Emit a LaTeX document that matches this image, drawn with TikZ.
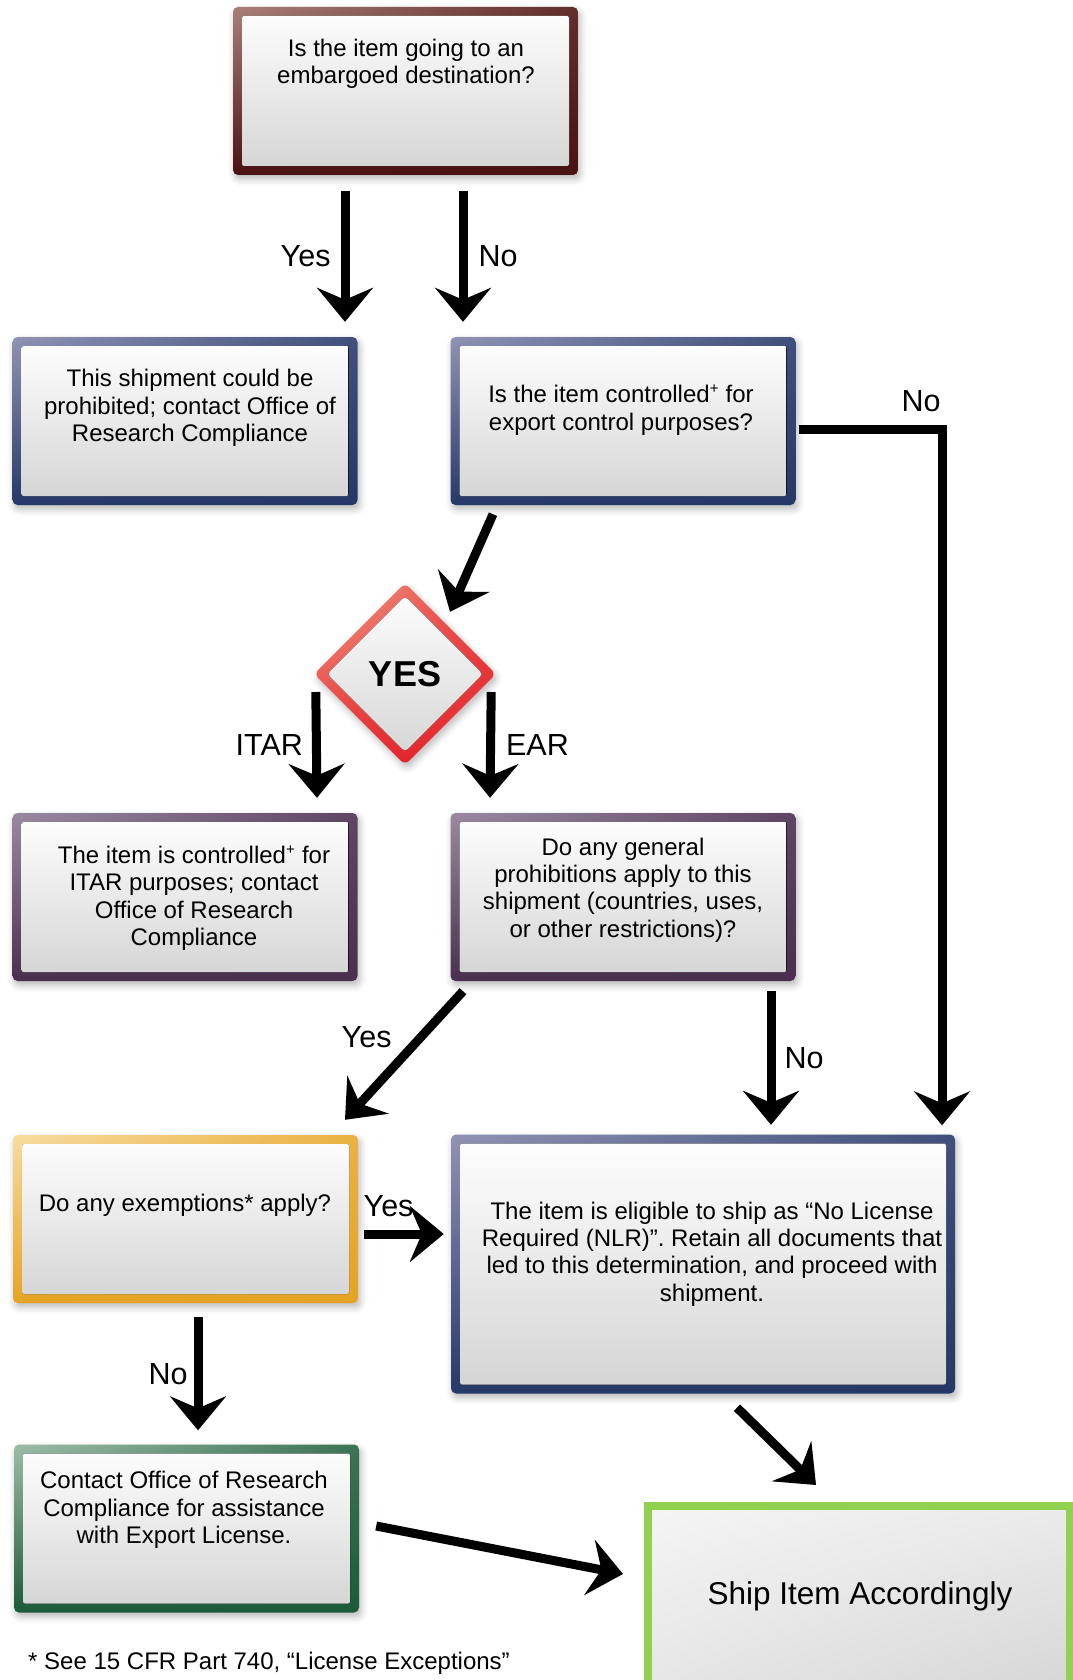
\documentclass[tikz,border=0pt]{standalone}
\usepackage{fontspec}
\setmainfont{Liberation Sans}
\usetikzlibrary{arrows.meta,shadings,shapes.geometric,shadows.blur,positioning}

\definecolor{maroonlt}{HTML}{A98079}
\definecolor{maroondk}{HTML}{4A1212}
\definecolor{navylt}{HTML}{9094B4}
\definecolor{navydk}{HTML}{263868}
\definecolor{purplelt}{HTML}{9A8AA0}
\definecolor{purpledk}{HTML}{4A2F4F}
\definecolor{orangelt}{HTML}{F8DCA0}
\definecolor{orangedk}{HTML}{E5A323}
\definecolor{greenlt}{HTML}{9DBDA8}
\definecolor{greendk}{HTML}{1B5A3A}
\definecolor{redlt}{HTML}{F4A088}
\definecolor{reddk}{HTML}{E3242B}
\definecolor{shipgreen}{HTML}{92D050}

\newcommand{\plusmark}{\textsuperscript{\fontsize{15}{15}\selectfont+}}

\tikzset{
  softshadow/.style={blur shadow={shadow xshift=2pt, shadow yshift=-4pt,
      shadow blur radius=7pt, shadow opacity=28}},
  innerfill/.style={top color=white, bottom color=black!17},
  boxframe/.style 2 args={rounded corners=5pt, softshadow,
    upper left=#1, upper right=#2!75!#1, lower left=#2, lower right=#2,
    path picture={\fill[rounded corners=2pt, innerfill]
      ([xshift=9pt,yshift=-9pt]path picture bounding box.north west) rectangle
      ([xshift=-9pt,yshift=9pt]path picture bounding box.south east);}},
  qbox/.style={rectangle, minimum width=345, minimum height=168, inner sep=0pt},
  qtext/.style={align=center, inner sep=0pt, font=\fontsize{24}{27.3}\selectfont},
  lbl/.style={inner sep=0pt, font=\fontsize{30.5}{34}\selectfont},
  arr/.style={line width=9pt, -{Stealth[length=34pt,width=56pt,inset=12pt]}},
}

\begin{document}
\begin{tikzpicture}[x=1pt, y=-1pt]
  \useasboundingbox (0,0) rectangle (1072,1680);

  % boxes
  \node[qbox, boxframe={maroonlt}{maroondk}] (embargo) at (405.5,91) {};
  \node[qtext] (embargo-t) at (406,63.5) {Is the item going to an\\embargoed destination?};

  \node[qbox, boxframe={navylt}{navydk}] (prohib) at (185,421) {};
  \node[qtext] (prohib-t) at (190,408) {This shipment could be\\prohibited; contact Office of\\Research Compliance};

  \node[qbox, boxframe={navylt}{navydk}] (controlled) at (623,421) {};
  \node[qtext] (controlled-t) at (621,410) {Is the item controlled\plusmark{} for\\export control purposes?};

  \node[diamond, aspect=1, minimum width=182, minimum height=182, inner sep=0pt,
    rounded corners=6pt, softshadow,
    upper left=redlt, upper right=reddk!75!redlt, lower left=reddk, lower right=reddk,
    path picture={\fill[rounded corners=4pt, innerfill]
      ([yshift=-13pt]path picture bounding box.north) --
      ([xshift=-13pt]path picture bounding box.east) --
      ([yshift=13pt]path picture bounding box.south) --
      ([xshift=13pt]path picture bounding box.west) -- cycle;},
    font=\bfseries\fontsize{36}{40}\selectfont] (yes) at (405,674) {YES};

  \node[qbox, boxframe={purplelt}{purpledk}] (itar) at (185,897) {};
  \node[qtext] (itar-t) at (194,898) {The item is controlled\plusmark{} for\\ITAR purposes; contact\\Office of Research\\Compliance};

  \node[qbox, boxframe={purplelt}{purpledk}] (general) at (623,897) {};
  \node[qtext] (general-t) at (623,890) {Do any general\\prohibitions apply to this\\shipment (countries, uses,\\or other restrictions)?};

  \node[qbox, boxframe={orangelt}{orangedk}] (exempt) at (185.5,1219) {};
  \node[qtext] (exempt-t) at (185,1205) {Do any exemptions* apply?};

  \node[qbox, minimum width=504, minimum height=259, boxframe={navylt}{navydk}] (nlr) at (703,1264) {};
  \node[qtext] (nlr-t) at (712,1254) {The item is eligible to ship as “No License\\Required (NLR)”. Retain all documents that\\led to this determination, and proceed with\\shipment.};

  \node[qbox, boxframe={greenlt}{greendk}] (license) at (186.5,1528.5) {};
  \node[qtext] (license-t) at (184,1510) {Contact Office of Research\\Compliance for assistance\\with Export License.};

  \node[rectangle, draw=shipgreen, line width=8pt, minimum width=422, minimum height=184,
    upper left=black!4, upper right=black!8, lower left=black!10, lower right=black!16] (ship) at (859,1598) {};
  \node[inner sep=0pt, font=\fontsize{31.5}{36}\selectfont] (ship-t) at (860,1596) {Ship Item Accordingly};

  \node[qtext] (note) at (269,1663) {* See 15 CFR Part 740, “License Exceptions”};

  % connectors
  \draw[arr] ([xshift=-60.5pt,yshift=-16pt]embargo.south) -- ([xshift=160pt,yshift=15pt]prohib.north)
      node[lbl, midway, left=10pt] {Yes};
  \draw[arr] ([xshift=57.5pt,yshift=-16pt]embargo.south) -- ([xshift=-160pt,yshift=15pt]controlled.north)
      node[lbl, midway, right=11pt] {No};
  \draw[arr] ([xshift=3pt,yshift=-8pt]controlled.east) -| ([xshift=239pt,yshift=9pt]nlr.north)
      node[lbl, pos=0.5, anchor=south east, xshift=3pt, yshift=13pt] {No};
  \draw[arr] ([xshift=-130pt,yshift=-9pt]controlled.south) -- ([xshift=45pt,yshift=-29pt]yes.north);
  \draw[arr] ([xshift=2pt,yshift=-18pt]yes.west) -- ([xshift=132pt,yshift=15pt]itar.north)
      node[lbl, midway, left=9pt] {ITAR};
  \draw[arr] ([xshift=-5pt,yshift=-18pt]yes.east) -- ([xshift=-133pt,yshift=15pt]general.north)
      node[lbl, midway, right=11pt] {EAR};
  \draw[arr] ([xshift=-160pt,yshift=-10pt]general.south) -- ([xshift=159.5pt,yshift=15pt]exempt.north)
      node[lbl, midway, anchor=south east, xshift=-8pt, yshift=3pt] {Yes};
  \draw[arr] ([xshift=148pt,yshift=-10pt]general.south) -- ([xshift=68pt,yshift=9.5pt]nlr.north)
      node[lbl, midway, right=9pt] {No};
  \draw[arr] ([xshift=6pt,yshift=-15pt]exempt.east) -- ([xshift=-7pt,yshift=30pt]nlr.west)
      node[lbl, pos=0, anchor=south west, xshift=-5pt, yshift=13pt] {Yes};
  \draw[arr] ([xshift=12.5pt,yshift=-14pt]exempt.south) -- ([xshift=11.5pt,yshift=14pt]license.north)
      node[lbl, midway, left=6pt] {No};
  \draw[arr] ([xshift=34pt,yshift=-14pt]nlr.south) -- ([xshift=-43pt,yshift=17pt]ship.north);
  \draw[arr] ([xshift=17pt,yshift=2.5pt]license.east) -- ([xshift=-21pt,yshift=24pt]ship.west);
\end{tikzpicture}
\end{document}
